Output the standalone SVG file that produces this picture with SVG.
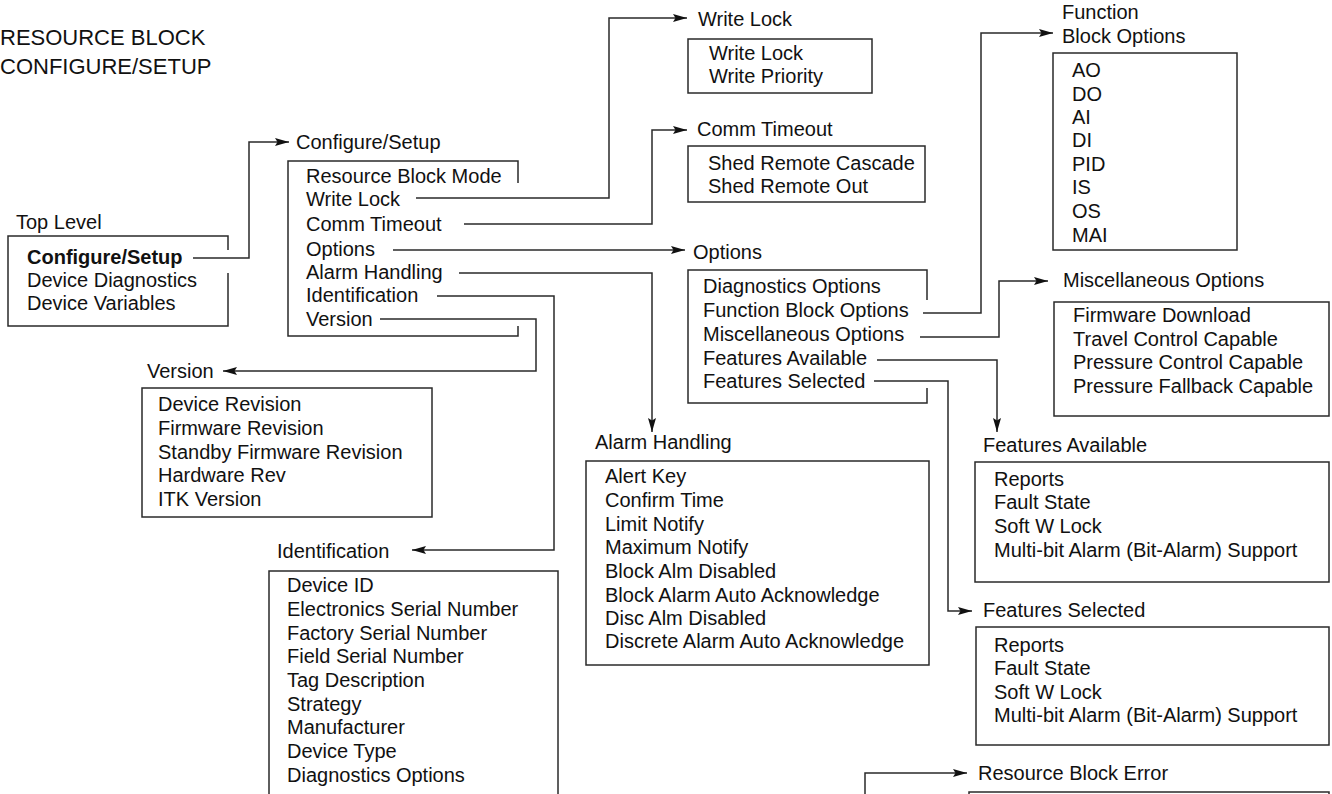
<svg xmlns="http://www.w3.org/2000/svg" width="1332" height="794" viewBox="0 0 1332 794">
<style>
text{font-family:"Liberation Sans",Arial,sans-serif;font-size:20px;fill:#111}
.title{font-size:22px}
.b{font-weight:bold}
.box{fill:none;stroke:#2a2a2a;stroke-width:1.5}
.conn path{fill:none;stroke:#2a2a2a;stroke-width:1.5}
</style>
<defs>
<marker id="ah" viewBox="0 0 14 9" refX="14" refY="4.5" markerWidth="14" markerHeight="9" orient="auto" markerUnits="userSpaceOnUse">
<path d="M0,0.5 L14,4.5 L0,8.5 L2.5,4.5 z" fill="#111"/>
</marker>
</defs>
<rect width="1332" height="794" fill="#fff"/>

<g id="title">
<text class="title" x="0" y="45">RESOURCE BLOCK</text>
<text class="title" x="0" y="74">CONFIGURE/SETUP</text>
</g>

<g id="top-level">
<text x="16" y="229">Top Level</text>
<path class="box" d="M228,250 V236 H8 V326 H228 V273"/>
<text class="b" x="27" y="264">Configure/Setup</text>
<text x="27" y="287">Device Diagnostics</text>
<text x="27" y="310">Device Variables</text>
</g>

<g id="configure-setup">
<text x="296" y="149">Configure/Setup</text>
<path class="box" d="M518,183 V161 H288 V336 H518 V326"/>
<text x="306" y="183">Resource Block Mode</text>
<text x="306" y="206">Write Lock</text>
<text x="306" y="231">Comm Timeout</text>
<text x="306" y="256">Options</text>
<text x="306" y="279">Alarm Handling</text>
<text x="306" y="302">Identification</text>
<text x="306" y="326">Version</text>
</g>

<g id="write-lock">
<text x="698" y="26">Write Lock</text>
<rect class="box" x="688" y="39" width="184" height="54"/>
<text x="709" y="60">Write Lock</text>
<text x="709" y="83">Write Priority</text>
</g>

<g id="comm-timeout">
<text x="697" y="136">Comm Timeout</text>
<rect class="box" x="688" y="146" width="237" height="56"/>
<text x="708" y="170">Shed Remote Cascade</text>
<text x="708" y="193">Shed Remote Out</text>
</g>

<g id="options">
<text x="693" y="259">Options</text>
<path class="box" d="M927,300 V270 H688 V403 H927 V388"/>
<text x="703" y="293">Diagnostics Options</text>
<text x="703" y="317">Function Block Options</text>
<text x="703" y="341">Miscellaneous Options</text>
<text x="703" y="365">Features Available</text>
<text x="703" y="388">Features Selected</text>
</g>

<g id="function-block-options">
<text x="1062" y="19">Function</text>
<text x="1062" y="43">Block Options</text>
<rect class="box" x="1053" y="53" width="184" height="197"/>
<text x="1072" y="77">AO</text>
<text x="1072" y="101">DO</text>
<text x="1072" y="124">AI</text>
<text x="1072" y="147">DI</text>
<text x="1072" y="171">PID</text>
<text x="1072" y="194">IS</text>
<text x="1072" y="218">OS</text>
<text x="1072" y="242">MAI</text>
</g>

<g id="miscellaneous-options">
<text x="1063" y="287">Miscellaneous Options</text>
<rect class="box" x="1054" y="302" width="275" height="114"/>
<text x="1073" y="322">Firmware Download</text>
<text x="1073" y="346">Travel Control Capable</text>
<text x="1073" y="369">Pressure Control Capable</text>
<text x="1073" y="393">Pressure Fallback Capable</text>
</g>

<g id="version">
<text x="147" y="378">Version</text>
<rect class="box" x="142" y="388" width="290" height="129"/>
<text x="158" y="411">Device Revision</text>
<text x="158" y="435">Firmware Revision</text>
<text x="158" y="459">Standby Firmware Revision</text>
<text x="158" y="482">Hardware Rev</text>
<text x="158" y="506">ITK Version</text>
</g>

<g id="identification">
<text x="277" y="558">Identification</text>
<rect class="box" x="269" y="571" width="289" height="240"/>
<text x="287" y="592">Device ID</text>
<text x="287" y="616">Electronics Serial Number</text>
<text x="287" y="640">Factory Serial Number</text>
<text x="287" y="663">Field Serial Number</text>
<text x="287" y="687">Tag Description</text>
<text x="287" y="711">Strategy</text>
<text x="287" y="734">Manufacturer</text>
<text x="287" y="758">Device Type</text>
<text x="287" y="782">Diagnostics Options</text>
</g>

<g id="alarm-handling">
<text x="595" y="449">Alarm Handling</text>
<rect class="box" x="586" y="461" width="343" height="204"/>
<text x="605" y="483">Alert Key</text>
<text x="605" y="507">Confirm Time</text>
<text x="605" y="531">Limit Notify</text>
<text x="605" y="554">Maximum Notify</text>
<text x="605" y="578">Block Alm Disabled</text>
<text x="605" y="602">Block Alarm Auto Acknowledge</text>
<text x="605" y="625">Disc Alm Disabled</text>
<text x="605" y="648">Discrete Alarm Auto Acknowledge</text>
</g>

<g id="features-available">
<text x="983" y="452">Features Available</text>
<rect class="box" x="975" y="462" width="354" height="120"/>
<text x="994" y="486">Reports</text>
<text x="994" y="509">Fault State</text>
<text x="994" y="533">Soft W Lock</text>
<text x="994" y="557">Multi-bit Alarm (Bit-Alarm) Support</text>
</g>

<g id="features-selected">
<text x="983" y="617">Features Selected</text>
<rect class="box" x="976" y="627" width="353" height="118"/>
<text x="994" y="652">Reports</text>
<text x="994" y="675">Fault State</text>
<text x="994" y="699">Soft W Lock</text>
<text x="994" y="722">Multi-bit Alarm (Bit-Alarm) Support</text>
</g>

<g id="resource-block-error">
<text x="978" y="780">Resource Block Error</text>
<rect class="box" x="969" y="792" width="360" height="40"/>
</g>

<g id="connectors" class="conn">
<path d="M193,258 H249 V142 H289" marker-end="url(#ah)"/>
<path d="M416,198 H609 V18 H687" marker-end="url(#ah)"/>
<path d="M464,224 H652 V130 H687" marker-end="url(#ah)"/>
<path d="M393,250 H685" marker-end="url(#ah)"/>
<path d="M459,273 H652 V432" marker-end="url(#ah)"/>
<path d="M437,296 H554 V550 H412" marker-end="url(#ah)"/>
<path d="M380,319 H536 V371 H223" marker-end="url(#ah)"/>
<path d="M923,313 H981 V33 H1053" marker-end="url(#ah)"/>
<path d="M920,337 H999 V281 H1048" marker-end="url(#ah)"/>
<path d="M877,360 H997 V432" marker-end="url(#ah)"/>
<path d="M874,381 H948 V611 H972" marker-end="url(#ah)"/>
<path d="M865,800 V773 H967" marker-end="url(#ah)"/>
</g>
</svg>
